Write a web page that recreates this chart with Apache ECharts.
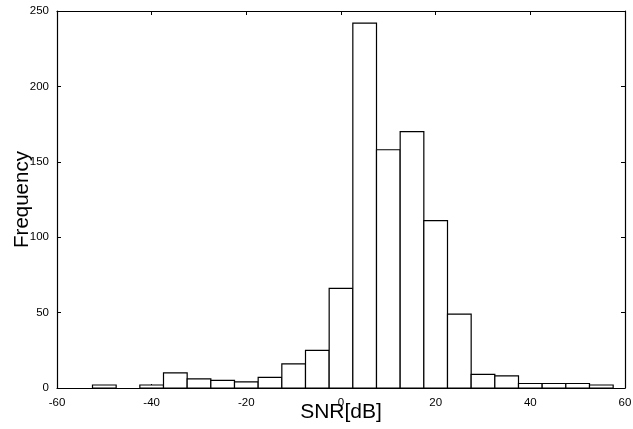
<!DOCTYPE html>
<html>
<head>
    <meta charset="UTF-8">
    <title>SNR histogram</title>
    <script src="https://cdn.jsdelivr.net/npm/echarts@6/dist/echarts.min.js"></script>
    <style>
        html, body { margin: 0; padding: 0; background: #fff; }
        #main { width: 633px; height: 429px; }
    </style>
</head>
<body>
<div id="main"></div>
<script type="text/javascript">
    // bin centres (dB), width 5
    var binCenters = [-55, -50, -45, -40, -35, -30, -25, -20, -15, -10, -5, 0, 5, 10, 15, 20, 25, 30, 35, 40, 45, 50, 55];
    // counts
    var counts = [0, 2, 0, 2, 10, 6, 5, 4, 7, 16, 25, 66, 242, 158, 170, 111, 49, 9, 8, 3, 3, 3, 2];
    var binWidth = 5;

    var xTicks = [-60, -40, -20, 0, 20, 40, 60];
    var yTicks = [0, 50, 100, 150, 200, 250];

    var font = 'Liberation Sans, Arial, sans-serif';

    var data = [];
    for (var i = 0; i < binCenters.length; i++) {
        if (counts[i] > 0) data.push([binCenters[i], counts[i]]);
    }

    var myChart = echarts.init(document.getElementById('main'));

    var tickStyle = { show: true, inside: true, length: 4, lineStyle: { color: '#000', width: 1 } };
    var lineStyle = { show: true, onZero: false, lineStyle: { color: '#000', width: 1.2 } };

    var option = {
        animation: false,
        backgroundColor: '#fff',
        grid: { left: 57, right: 8, top: 11, bottom: 41, containLabel: false, outerBoundsMode: 'none' },
        xAxis: [{
            type: 'value',
            min: xTicks[0],
            max: xTicks[xTicks.length - 1],
            interval: 20,
            position: 'bottom',
            name: 'SNR[dB]',
            nameLocation: 'middle',
            nameGap: 24,
            nameMoveOverlap: false,
            nameTextStyle: { fontFamily: font, fontSize: 21, color: '#000', verticalAlign: 'middle' },
            axisLine: lineStyle,
            axisTick: tickStyle,
            axisLabel: { margin: 9, fontFamily: font, fontSize: 11.5, color: '#000' },
            splitLine: { show: false }
        }, {
            type: 'value',
            min: xTicks[0],
            max: xTicks[xTicks.length - 1],
            interval: 20,
            position: 'top',
            axisLine: lineStyle,
            axisTick: tickStyle,
            axisLabel: { show: false },
            splitLine: { show: false }
        }],
        yAxis: [{
            type: 'value',
            min: yTicks[0],
            max: yTicks[yTicks.length - 1],
            interval: 50,
            position: 'left',
            name: 'Frequency',
            nameLocation: 'middle',
            nameGap: 35,
            nameMoveOverlap: false,
            nameTextStyle: { fontFamily: font, fontSize: 20.5, color: '#000', verticalAlign: 'middle' },
            axisLine: lineStyle,
            axisTick: tickStyle,
            axisLabel: { margin: 8, fontFamily: font, fontSize: 11.5, color: '#000' },
            splitLine: { show: false }
        }, {
            type: 'value',
            min: yTicks[0],
            max: yTicks[yTicks.length - 1],
            interval: 50,
            position: 'right',
            axisLine: lineStyle,
            axisTick: tickStyle,
            axisLabel: { show: false },
            splitLine: { show: false }
        }],
        series: [{
            type: 'custom',
            xAxisIndex: 0,
            yAxisIndex: 0,
            data: data,
            renderItem: function (params, api) {
                var x = api.value(0);
                var y = api.value(1);
                var p0 = api.coord([x - binWidth / 2, y]);
                var p1 = api.coord([x + binWidth / 2, 0]);
                return {
                    type: 'rect',
                    shape: { x: p0[0], y: p0[1], width: p1[0] - p0[0], height: p1[1] - p0[1] },
                    style: { fill: '#fff', stroke: '#000', lineWidth: 1.2 }
                };
            }
        }]
    };

    myChart.setOption(option);
</script>
</body>
</html>
